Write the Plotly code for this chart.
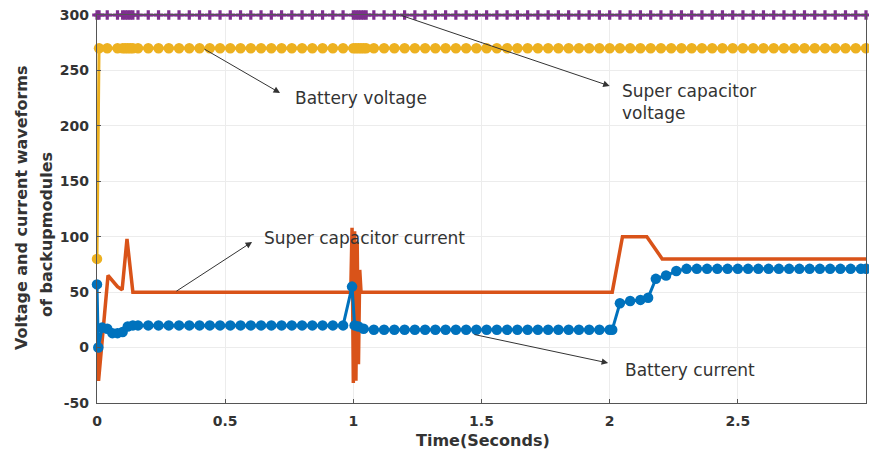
import plotly.graph_objects as go

# ---- sample times and values of the four backup-module signals ----
t_voltage = [0.0, 0.008, 0.04, 0.08, 0.1, 0.11, 0.12, 0.13, 0.14,
             0.16, 0.2, 0.24, 0.28, 0.32, 0.36, 0.4, 0.44, 0.48, 0.52, 0.56,
             0.6, 0.64, 0.68, 0.72, 0.76, 0.8, 0.84, 0.88, 0.92, 0.96,
             1.0, 1.01, 1.02, 1.03, 1.04, 1.05,
             1.08, 1.12, 1.16, 1.2, 1.24, 1.28, 1.32, 1.36, 1.4, 1.44,
             1.48, 1.52, 1.56, 1.6, 1.64, 1.68, 1.72, 1.76, 1.8, 1.84,
             1.88, 1.92, 1.96, 2.0, 2.04, 2.08, 2.12, 2.16, 2.2, 2.24,
             2.28, 2.32, 2.36, 2.4, 2.44, 2.48, 2.52, 2.56, 2.6, 2.64,
             2.68, 2.72, 2.76, 2.8, 2.84, 2.88, 2.92, 2.96, 3.0]

sc_voltage = [300, 300, 300, 300, 300, 300, 300, 300, 300,
              300, 300, 300, 300, 300, 300, 300, 300, 300, 300, 300,
              300, 300, 300, 300, 300, 300, 300, 300, 300, 300,
              300, 300, 300, 300, 300, 300,
              300, 300, 300, 300, 300, 300, 300, 300, 300, 300,
              300, 300, 300, 300, 300, 300, 300, 300, 300, 300,
              300, 300, 300, 300, 300, 300, 300, 300, 300, 300,
              300, 300, 300, 300, 300, 300, 300, 300, 300, 300,
              300, 300, 300, 300, 300, 300, 300, 300, 300]

bat_voltage = [80, 270, 270, 270, 270, 270, 270, 270, 270,
               270, 270, 270, 270, 270, 270, 270, 270, 270, 270, 270,
               270, 270, 270, 270, 270, 270, 270, 270, 270, 270,
               270, 270, 270, 270, 270, 270,
               270, 270, 270, 270, 270, 270, 270, 270, 270, 270,
               270, 270, 270, 270, 270, 270, 270, 270, 270, 270,
               270, 270, 270, 270, 270, 270, 270, 270, 270, 270,
               270, 270, 270, 270, 270, 270, 270, 270, 270, 270,
               270, 270, 270, 270, 270, 270, 270, 270, 270]

t_bat_current = [0.0, 0.005, 0.02, 0.04, 0.06, 0.08, 0.1, 0.12, 0.14,
                 0.16, 0.2, 0.24, 0.28, 0.32, 0.36, 0.4, 0.44, 0.48, 0.52,
                 0.56, 0.6, 0.64, 0.68, 0.72, 0.76, 0.8, 0.84, 0.88, 0.92,
                 0.96, 0.995, 1.005, 1.02, 1.04,
                 1.08, 1.12, 1.16, 1.2, 1.24, 1.28, 1.32, 1.36, 1.4, 1.44,
                 1.48, 1.52, 1.56, 1.6, 1.64, 1.68, 1.72, 1.76, 1.8, 1.84,
                 1.88, 1.92, 1.96, 2.0, 2.01, 2.04, 2.08, 2.12, 2.15, 2.18,
                 2.22, 2.26, 2.3, 2.34, 2.38, 2.42, 2.46, 2.5, 2.54, 2.58,
                 2.62, 2.66, 2.7, 2.74, 2.78, 2.82, 2.86, 2.9, 2.94, 2.98, 3.0]

bat_current = [57, 0, 18, 17, 13, 13, 14, 19, 20,
               20, 20, 20, 20, 20, 20, 20, 20, 20, 20,
               20, 20, 20, 20, 20, 20, 20, 20, 20, 20,
               20, 55, 20, 19, 17,
               16, 16, 16, 16, 16, 16, 16, 16, 16, 16,
               16, 16, 16, 16, 16, 16, 16, 16, 16, 16,
               16, 16, 16, 16, 16, 40, 42, 43, 45, 62,
               65, 69, 71, 71, 71, 71, 71, 71, 71, 71,
               71, 71, 71, 71, 71, 71, 71, 71, 71, 71, 71]

t_sc_current = [0.0, 0.006, 0.043, 0.08, 0.098, 0.117, 0.14,
                0.99, 0.995, 1.0, 1.005, 1.01, 1.015, 1.02, 1.025, 1.03,
                2.01, 2.05, 2.145, 2.205, 3.0]
sc_current = [28, -30, 65, 55, 52, 98, 50,
              50, 108, -32, 105, -30, 95, -15, 70, 50,
              50, 100, 100, 80, 80]

x_ticks = [0, 0.5, 1, 1.5, 2, 2.5, 3]
x_tick_text = ["0", "0.5", "1", "1.5", "2", "2.5", "3"]
y_ticks = [-50, 0, 50, 100, 150, 200, 250, 300]
y_tick_text = ["-50", "0", "50", "100", "150", "200", "250", "300"]

PURPLE = "#7E2F8E"
YELLOW = "#EDB120"
BLUE = "#0072BD"
ORANGE = "#D95319"
FONT = "DejaVu Sans"

fig = go.Figure()

fig.add_trace(go.Scatter(
    x=t_voltage, y=sc_voltage, mode="lines+markers", cliponaxis=False,
    line=dict(color=PURPLE, width=2.5),
    marker=dict(symbol="cross", size=8, color=PURPLE),
    name="Super capacitor voltage"))

fig.add_trace(go.Scatter(
    x=t_voltage, y=bat_voltage, mode="lines+markers", cliponaxis=False,
    line=dict(color=YELLOW, width=3),
    marker=dict(symbol="circle", size=10.5, color=YELLOW),
    name="Battery voltage"))

fig.add_trace(go.Scatter(
    x=t_sc_current, y=sc_current, mode="lines", cliponaxis=False,
    line=dict(color=ORANGE, width=3.5),
    name="Super capacitor current"))

fig.add_trace(go.Scatter(
    x=t_bat_current, y=bat_current, mode="lines+markers", cliponaxis=False,
    line=dict(color=BLUE, width=3),
    marker=dict(symbol="circle", size=10.5, color=BLUE),
    name="Battery current"))

axis_common = dict(
    showline=True, mirror=True, linecolor="#555555", linewidth=1.2,
    ticks="inside", ticklen=4, tickcolor="#555555",
    showgrid=True, gridcolor="#ececec", gridwidth=1, zeroline=False,
    tickfont=dict(family=FONT, size=14, color="#333333", weight="bold"),
)

fig.update_xaxes(range=[0, 3], tickvals=x_ticks, ticktext=x_tick_text,
                 ticklabelstandoff=5, **axis_common)
fig.update_yaxes(range=[-50, 300], tickvals=y_ticks, ticktext=y_tick_text,
                 ticklabelstandoff=4, **axis_common)

# arrows: head first (x, y), tail on the curve (ax, ay)
arrows = [
    (0.714, 229.7, 0.4135, 270),   # battery voltage
    (2.0, 236.0, 1.182, 300),      # super capacitor voltage
    (0.605, 95.3, 0.304, 50),      # super capacitor current
    (1.994, -13.9, 1.467, 12),     # battery current
]
annotations = []
for hx, hy, tx, ty in arrows:
    annotations.append(dict(
        x=hx, y=hy, ax=tx, ay=ty, xref="x", yref="y", axref="x", ayref="y",
        text="", showarrow=True, arrowhead=2, arrowsize=1.3, arrowwidth=1,
        arrowcolor="#333333"))

labels = [
    (0.765, 225.0, "Battery voltage"),
    (2.04, 221.5, "Super capacitor<br>voltage"),
    (0.644, 98.9, "Super capacitor current"),
    (2.052, -20.0, "Battery current"),
]
for lx, ly, txt in labels:
    annotations.append(dict(
        x=lx, y=ly, xref="x", yref="y", text=txt, showarrow=False,
        xanchor="left", yanchor="middle", align="left",
        font=dict(family=FONT, size=17, color="#333333")))

# axis titles (positions given in pixels, converted below)
annotations.append(dict(
    x=483, y=440, xref="paper", yref="paper", text="Time(Seconds)",
    showarrow=False, xanchor="center", yanchor="middle",
    font=dict(family=FONT, size=16, color="#333333", weight="bold")))
annotations.append(dict(
    x=21, y=208, xref="paper", yref="paper",
    text="Voltage and current waveforms", textangle=-90,
    showarrow=False, xanchor="center", yanchor="middle",
    font=dict(family=FONT, size=16, color="#333333", weight="bold")))
annotations.append(dict(
    x=46, y=235, xref="paper", yref="paper",
    text="of backupmodules", textangle=-90,
    showarrow=False, xanchor="center", yanchor="middle",
    font=dict(family=FONT, size=16, color="#333333", weight="bold")))

L, R, T, B, W, H = 97, 3, 15, 50, 869, 453
pw, ph = W - L - R, H - T - B
for a in annotations[-3:]:
    a["x"] = (a["x"] - L) / pw
    a["y"] = (H - B - a["y"]) / ph

fig.update_layout(
    width=W, height=H,
    margin=dict(l=L, r=R, t=T, b=B),
    paper_bgcolor="white", plot_bgcolor="white",
    showlegend=False,
    annotations=annotations,
)

fig.write_html("out.html")
